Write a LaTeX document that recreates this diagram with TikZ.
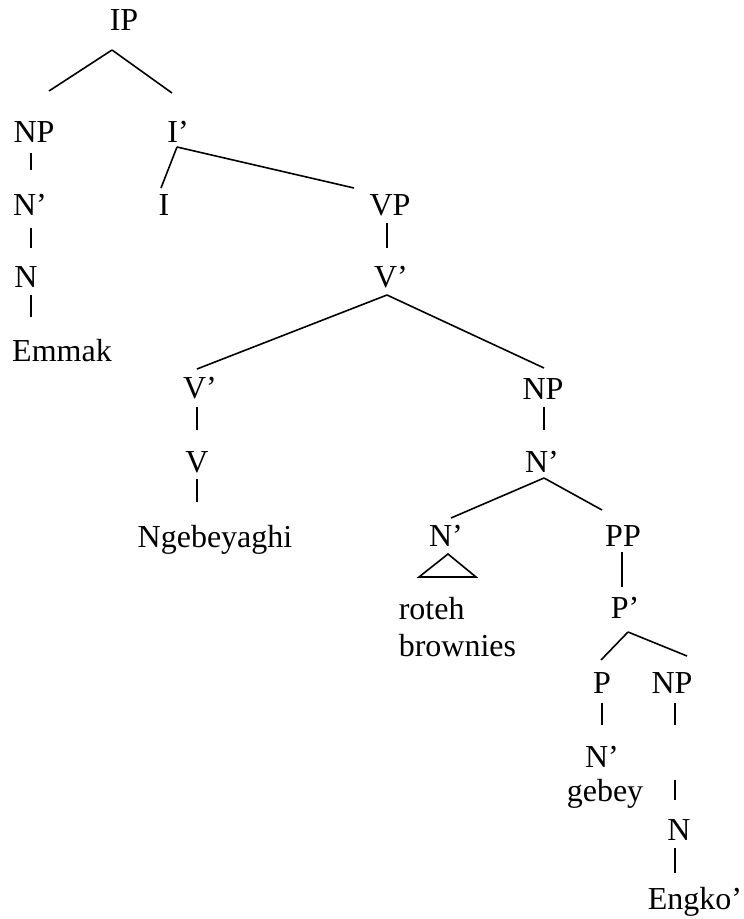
\documentclass[tikz,border=0pt]{standalone}
\usepackage{fontspec}
\setmainfont{Liberation Serif}

\begin{document}
\begin{tikzpicture}
	[x=1pt,y=-1pt,line width=1.6pt,every node/.style={anchor=base,
			inner sep=0pt,font=\fontsize{32}{37}\selectfont}]
		\useasboundingbox (0,0) rectangle (744,919);
		\node (ip) at (124,30) {IP};
		\node (np1) at (34,142) {NP};
		\node (ibar) at (178,142) {I'};
		\node (nb1) at (30,215) {N'};
		\node (i) at (164,215) {I};
		\node (vp) at (390,215) {VP};
		\node (n1) at (26,287) {N};
		\node (vb1) at (391,287) {V'};
		\node (emmak) at (62,361) {Emmak};
		\node (vb2) at (200,398) {V'};
		\node (np2) at (543,399) {NP};
		\node (v) at (197,472) {V};
		\node (nb2) at (542,472) {N'};
		\node (ngeb) at (215,547) {Ngebeyaghi};
		\node (nb3) at (446,546) {N'};
		\node (pp) at (623,546) {PP};
		\node[anchor=north west,align=left] (roteh) at (398,596) {roteh\\brownies};
		\node (pbar) at (625,618) {P'};
		\node (p) at (602,693) {P};
		\node (np3) at (672,693) {NP};
		\node (nb4) at (602,767) {N'};
		\node (nb5) at (675,767) {};
		\node (gebey) at (605,801) {gebey};
		\node (n2) at (679,840) {N};
		\node (engko) at (695,909) {Engko'};

		% triangle over roteh brownies
		\draw ([shift={(2,8)}]nb3.base) -- ++(-29,23) -- ++(57,0) -- cycle;

		\foreach \u/\su/\v/\sv in {ip/{-12,20}/np1/{15,-51},
			ip/{-12,20}/ibar/{-6,-49}, np1/{-3,11}/nb1/{1,-45},
			nb1/{1,13}/n1/{5,-39}, n1/{5,8}/emmak/{-31,-44},
			ibar/{-1,5}/i/{-3,-27}, ibar/{-1,5}/vp/{-36,-27},
			vp/{-3,8}/vb1/{-4,-39}, vb1/{-4,8}/vb2/{-3,-29},
			vb1/{-4,8}/np2/{1,-31}, vb2/{-3,9}/v/{0,-42},
			v/{0,7}/ngeb/{-18,-45}, np2/{1,8}/nb2/{2,-42},
			nb2/{2,6}/nb3/{5,-28}, nb2/{2,6}/pp/{-21,-36},
			pp/{-1,6}/pbar/{-3,-31}, pbar/{3,14}/p/{-1,-33},
			pbar/{3,14}/np3/{15,-37}, p/{0,10}/nb4/{0,-42},
			np3/{3,10}/nb5/{0,-42}, nb5/{0,13}/n2/{-4,-40},
			n2/{-4,8}/engko/{-20,-36}}
		{
			\draw ([shift={(\su)}]\u.base) -- ([shift={(\sv)}]\v.base);
		}
	\end{tikzpicture}
\end{document}
